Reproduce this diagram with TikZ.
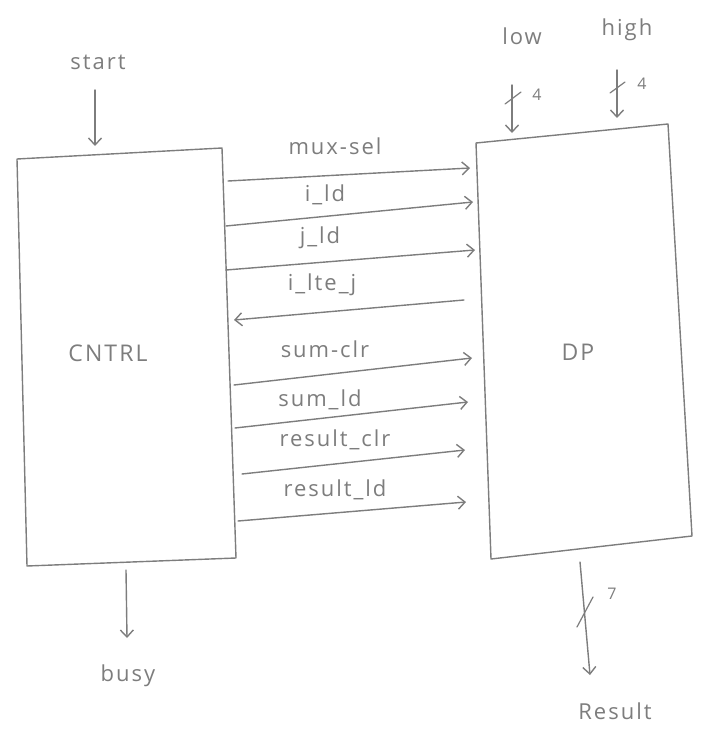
\documentclass[tikz,border=0pt]{standalone}
\usepackage{fontspec}
\setmainfont{Open Sans}[LetterSpace=9]
\usetikzlibrary{arrows.meta}
\definecolor{pencil}{RGB}{125,125,125}
\tikzset{
  wire/.style={draw=pencil, line width=1.4pt, line cap=round, line join=round},
  sig/.style={wire, -{Straight Barb[length=7pt,width=13pt,line width=1.4pt]}},
  lbl/.style={text=pencil, font=\fontsize{22}{24}\selectfont, inner sep=1pt},
  num/.style={lbl, font=\fontsize{16}{18}\selectfont},
  blk/.style={text=pencil, font=\fontsize{23}{25}\selectfont},
  tick/.style={wire, line width=1.2pt}
}
\begin{document}
\begin{tikzpicture}[x=1pt,y=-1pt]
\useasboundingbox (0,0) rectangle (702,741);

% controller outline
\coordinate (c1) at (17,159);
\coordinate (c2) at (222,148);
\coordinate (c3) at (236,558);
\coordinate (c4) at (27,566);
\draw[wire] (c1) -- (c2) -- (c3) -- (c4) -- cycle;
\node[blk] (cntrl) at (108,353) {CNTRL};

% datapath outline
\coordinate (d1) at (476,143);
\coordinate (d2) at (668,124);
\coordinate (d3) at (692,536);
\coordinate (d4) at (491,559);
\draw[wire] (d1) -- (d2) -- (d3) -- (d4) -- cycle;
\node[blk] (dp) at (578,352) {DP};

% external inputs
\node[lbl] (start) at (98,62) {start};
\coordinate (starttop) at (95,90);
\coordinate (startend) at (95,146);
\draw[sig] (starttop) -- (startend);

\node[lbl] (low) at (522,36) {low};
\coordinate (lowtop) at (512,85);
\coordinate (lowend) at (512,133);
\draw[sig] (lowtop) -- (lowend);
\draw[tick] (505,104) -- (521,92);
\node[num] (lown) at (537,95) {4};

\node[lbl] (high) at (627,30) {high};
\coordinate (hightop) at (617,70);
\coordinate (highend) at (617,118);
\draw[sig] (hightop) -- (highend);
\draw[tick] (610,93) -- (625,82);
\node[num] (highn) at (642,84) {4};

% outputs
\coordinate (busytop) at (126,570);
\coordinate (busyend) at (127,638);
\draw[sig] (busytop) -- (busyend);
\node[lbl] (busy) at (128,676) {busy};

\coordinate (restop) at (580,562);
\coordinate (resend) at (590,675);
\draw[sig] (restop) -- (resend);
\draw[tick] (577,627) -- (593,597);
\node[num] (resn) at (612,594) {7};
\node[lbl] (result) at (615,711) {Result};

% control signals
\coordinate (a1) at (228,181); \coordinate (b1) at (470,168);
\draw[sig] (a1) -- (b1);
\node[lbl] (muxsel) at (335,146) {mux-sel};

\coordinate (a2) at (226,226); \coordinate (b2) at (473,202);
\draw[sig] (a2) -- (b2);
\node[lbl] (ild) at (325,195) {i\_ld};

\coordinate (a3) at (226,270); \coordinate (b3) at (475,250);
\draw[sig] (a3) -- (b3);
\node[lbl] (jld) at (320,238) {j\_ld};

\coordinate (b4) at (464,300); \coordinate (a4) at (234,320);
\draw[sig] (b4) -- (a4);
\node[lbl] (ilte) at (322,285) {i\_lte\_j};

\coordinate (a5) at (234,385); \coordinate (b5) at (472,358);
\draw[sig] (a5) -- (b5);
\node[lbl] (sumclr) at (325,349) {sum-clr};

\coordinate (a6) at (235,428); \coordinate (b6) at (468,402);
\draw[sig] (a6) -- (b6);
\node[lbl] (sumld) at (320,400) {sum\_ld};

\coordinate (a7) at (242,474); \coordinate (b7) at (465,450);
\draw[sig] (a7) -- (b7);
\node[lbl] (resclr) at (335,440) {result\_clr};

\coordinate (a8) at (238,521); \coordinate (b8) at (466,502);
\draw[sig] (a8) -- (b8);
\node[lbl] (resld) at (335,490) {result\_ld};
\end{tikzpicture}
\end{document}
